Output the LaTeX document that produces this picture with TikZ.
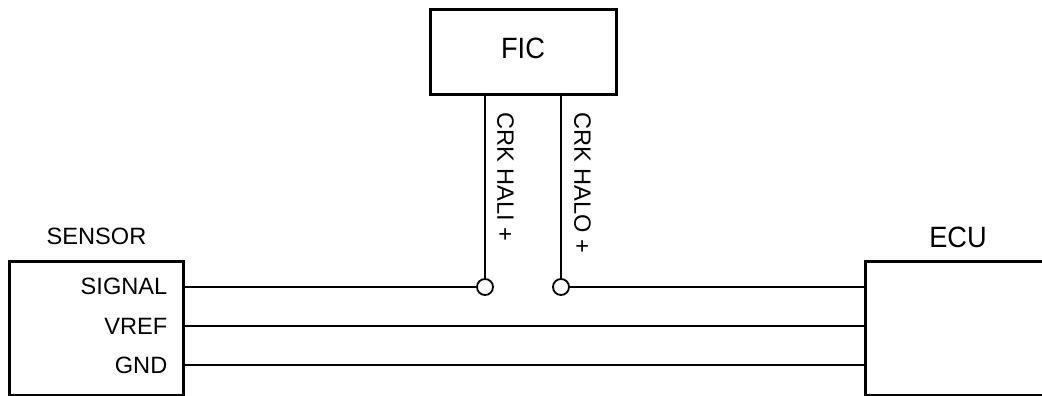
\documentclass[tikz,border=0pt]{standalone}
\usepackage{fontspec}
\setmainfont{Liberation Sans}
\tikzset{
  box/.style={draw=black,line width=3pt,fill=white,rectangle,inner sep=0pt,anchor=north west},
  wire/.style={draw=black,line width=1.9pt},
  term/.style={circle,draw=black,line width=1.8pt,fill=white,minimum size=16pt,inner sep=0pt},
  lab/.style={font=\fontsize{23.6pt}{23.6pt}\selectfont,inner sep=0pt,text=black},
  biglab/.style={font=\fontsize{27.2pt}{27.2pt}\selectfont,inner sep=0pt,text=black,yscale=1.08}
}
\begin{document}
\begin{tikzpicture}[x=1pt,y=-1pt]
\path[use as bounding box] (0,0) rectangle (1042,396);
\clip (0,0) rectangle (1042,396);
% boxes
\node[box,minimum width=186pt,minimum height=85pt] (fic) at (429,8) {};
\node[box,minimum width=174pt,minimum height=134pt] (sensor) at (8,260) {};
\node[box,minimum width=200pt,minimum height=134pt] (ecu) at (864,260) {};
% anchor points
\coordinate (sSig) at (sensor.east |- 0,287);
\coordinate (sRef) at (sensor.east |- 0,326);
\coordinate (sGnd) at (sensor.east |- 0,365);
\coordinate (eSig) at (ecu.west |- 0,287);
\coordinate (eRef) at (ecu.west |- 0,326);
\coordinate (eGnd) at (ecu.west |- 0,365);
\coordinate (fHi) at (485,93);
\coordinate (fHo) at (561,93);
% terminals
\node[term] (tHi) at (485,287) {};
\node[term] (tHo) at (561,287) {};
% wires
\draw[wire] (sSig) -- (tHi);
\draw[wire] (tHo) -- (eSig);
\draw[wire] (sRef) -- (eRef);
\draw[wire] (sGnd) -- (eGnd);
\draw[wire] (fHi) -- (tHi);
\draw[wire] (fHo) -- (tHo);
% labels
\node[biglab] (tFic) at (523,48) {FIC};
\node[biglab] (tEcu) at (958,237) {ECU};
\node[lab] (tSensor) at (96.5,236.5) {SENSOR};
\node[lab,anchor=east] (tSig) at (167.5,286) {SIGNAL};
\node[lab,anchor=east] (tRef) at (167.5,326.5) {VREF};
\node[lab,anchor=east] (tGnd) at (167.5,365.5) {GND};
\node[lab,rotate=-90,anchor=west] (tHali) at (505.5,112) {CRK HALI +};
\node[lab,rotate=-90,anchor=west] (tHalo) at (582.5,112) {CRK HALO +};
\end{tikzpicture}
\end{document}
